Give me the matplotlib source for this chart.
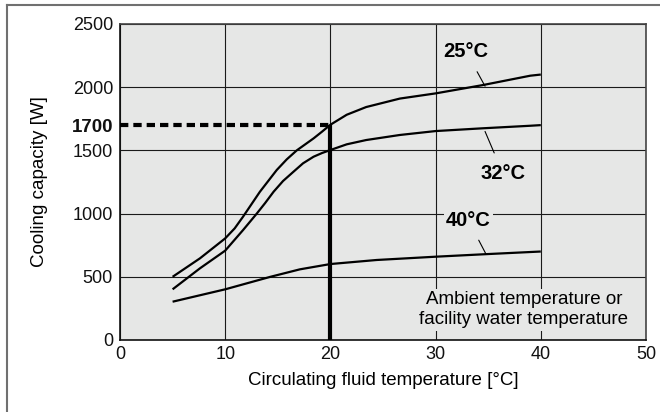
import matplotlib
matplotlib.use("Agg")
import matplotlib.pyplot as plt
from matplotlib.lines import Line2D

plt.rcParams['font.family'] = ['Liberation Sans', 'DejaVu Sans']

# Data
temp_25 = [5, 7.6, 10, 10.9, 11.7, 13.3, 14.9, 15.85, 16.8, 18.4, 19.2, 20, 21.55, 23.4, 26.6, 30, 34.5, 39, 40]
cap_25 = [500, 646, 804, 883, 976, 1173, 1345, 1429, 1500, 1595, 1648, 1703, 1782, 1843, 1910, 1951, 2017, 2091, 2100]

temp_32 = [5, 7.6, 10, 11.7, 13.0, 13.8, 14.6, 15.5, 16.5, 17.4, 18.4, 19.2, 20, 21.55, 23.4, 26.6, 30, 34.5, 39, 40]
cap_32 = [401, 567, 707, 870, 1000, 1084, 1173, 1258, 1332, 1398, 1450, 1479, 1503, 1548, 1582, 1622, 1653, 1675, 1695, 1700]

temp_40 = [5, 10, 14.3, 17.1, 20, 24.4, 30, 35, 40]
cap_40 = [303, 401, 500, 559, 601, 633, 659, 680, 700]

series_labels = ['25°C', '32°C', '40°C']
x_ticks = [0, 10, 20, 30, 40, 50]
y_ticks = [0, 500, 1000, 1500, 2000, 2500]
marked_temp = 20
marked_cap = 1700

BG = '#e6e7e6'

fig = plt.figure(figsize=(6.6, 4.12), dpi=100)
ax = fig.add_axes([120 / 660, 72 / 412, 526 / 660, 316 / 412])
ax.set_facecolor(BG)

ax.set_xlim(0, 50)
ax.set_ylim(0, 2500)
ax.set_xticks(x_ticks)
ax.set_yticks(y_ticks)
ax.set_yticks([marked_cap], minor=True, labels=[str(marked_cap)])
ax.tick_params(axis='both', which='both', length=0, labelsize=13, colors='#111111')
ax.tick_params(axis='y', which='both', pad=5)
ax.tick_params(axis='x', which='both', pad=4)
for lab in ax.get_yticklabels(minor=True):
    lab.set_fontweight('bold')
    lab.set_fontsize(13.5)
ax.grid(True, which='major', color='#1a1a1a', linewidth=0.8)
ax.set_axisbelow(True)
for s in ax.spines.values():
    s.set_color('#444444')
    s.set_linewidth(1.2)
ax.spines['left'].set_color('#111111')
ax.spines['bottom'].set_color('#111111')

for xs, ys in [(temp_25, cap_25), (temp_32, cap_32), (temp_40, cap_40)]:
    ax.plot(xs, ys, color='black', linewidth=1.6, solid_capstyle='butt',
            solid_joinstyle='round', zorder=3)

ax.plot([0, marked_temp], [marked_cap, marked_cap], color='black', linewidth=3,
        linestyle=(0, (2.0, 1.2)), dash_capstyle='butt', zorder=4)
ax.plot([marked_temp, marked_temp], [0, marked_cap], color='black', linewidth=3,
        solid_capstyle='butt', zorder=4)

ax.set_xlabel('Circulating fluid temperature [°C]', fontsize=13.5, labelpad=7)
ax.set_ylabel('Cooling capacity [W]', fontsize=13.5, labelpad=17)

bbox = dict(boxstyle='square,pad=0.1', facecolor=BG, edgecolor='none')
# series labels with leader lines
ax.annotate(series_labels[0], xy=(34.7, 2008), xytext=(32.9, 2281), ha='center', va='center',
            fontsize=14.5, fontweight='bold', bbox=bbox,
            arrowprops=dict(arrowstyle='-', color='black', lw=0.8, shrinkA=7, shrinkB=0))
ax.annotate(series_labels[1], xy=(34.7, 1650), xytext=(36.4, 1318), ha='center', va='center',
            fontsize=14.5, fontweight='bold', bbox=bbox,
            arrowprops=dict(arrowstyle='-', color='black', lw=0.8, shrinkA=7, shrinkB=0))
ax.annotate(series_labels[2], xy=(34.8, 678), xytext=(33.1, 949), ha='center', va='center',
            fontsize=14.5, fontweight='bold', bbox=bbox,
            arrowprops=dict(arrowstyle='-', color='black', lw=0.8, shrinkA=7, shrinkB=0))

ax.text(38.4, 240, 'Ambient temperature or\nfacility water temperature', ha='center', va='center',
        fontsize=13.5, linespacing=1.2, bbox=dict(boxstyle='square,pad=0.15', facecolor=BG, edgecolor='none'),
        zorder=5)

# figure frame (top and left)
fig.add_artist(Line2D([7 / 660, 7 / 660], [0, 1 - 5 / 412], transform=fig.transFigure,
                      color='#707070', linewidth=1.5))
fig.add_artist(Line2D([7 / 660, 1], [1 - 5 / 412, 1 - 5 / 412], transform=fig.transFigure,
                      color='#707070', linewidth=1.5))

fig.savefig('out.png', dpi=100)
